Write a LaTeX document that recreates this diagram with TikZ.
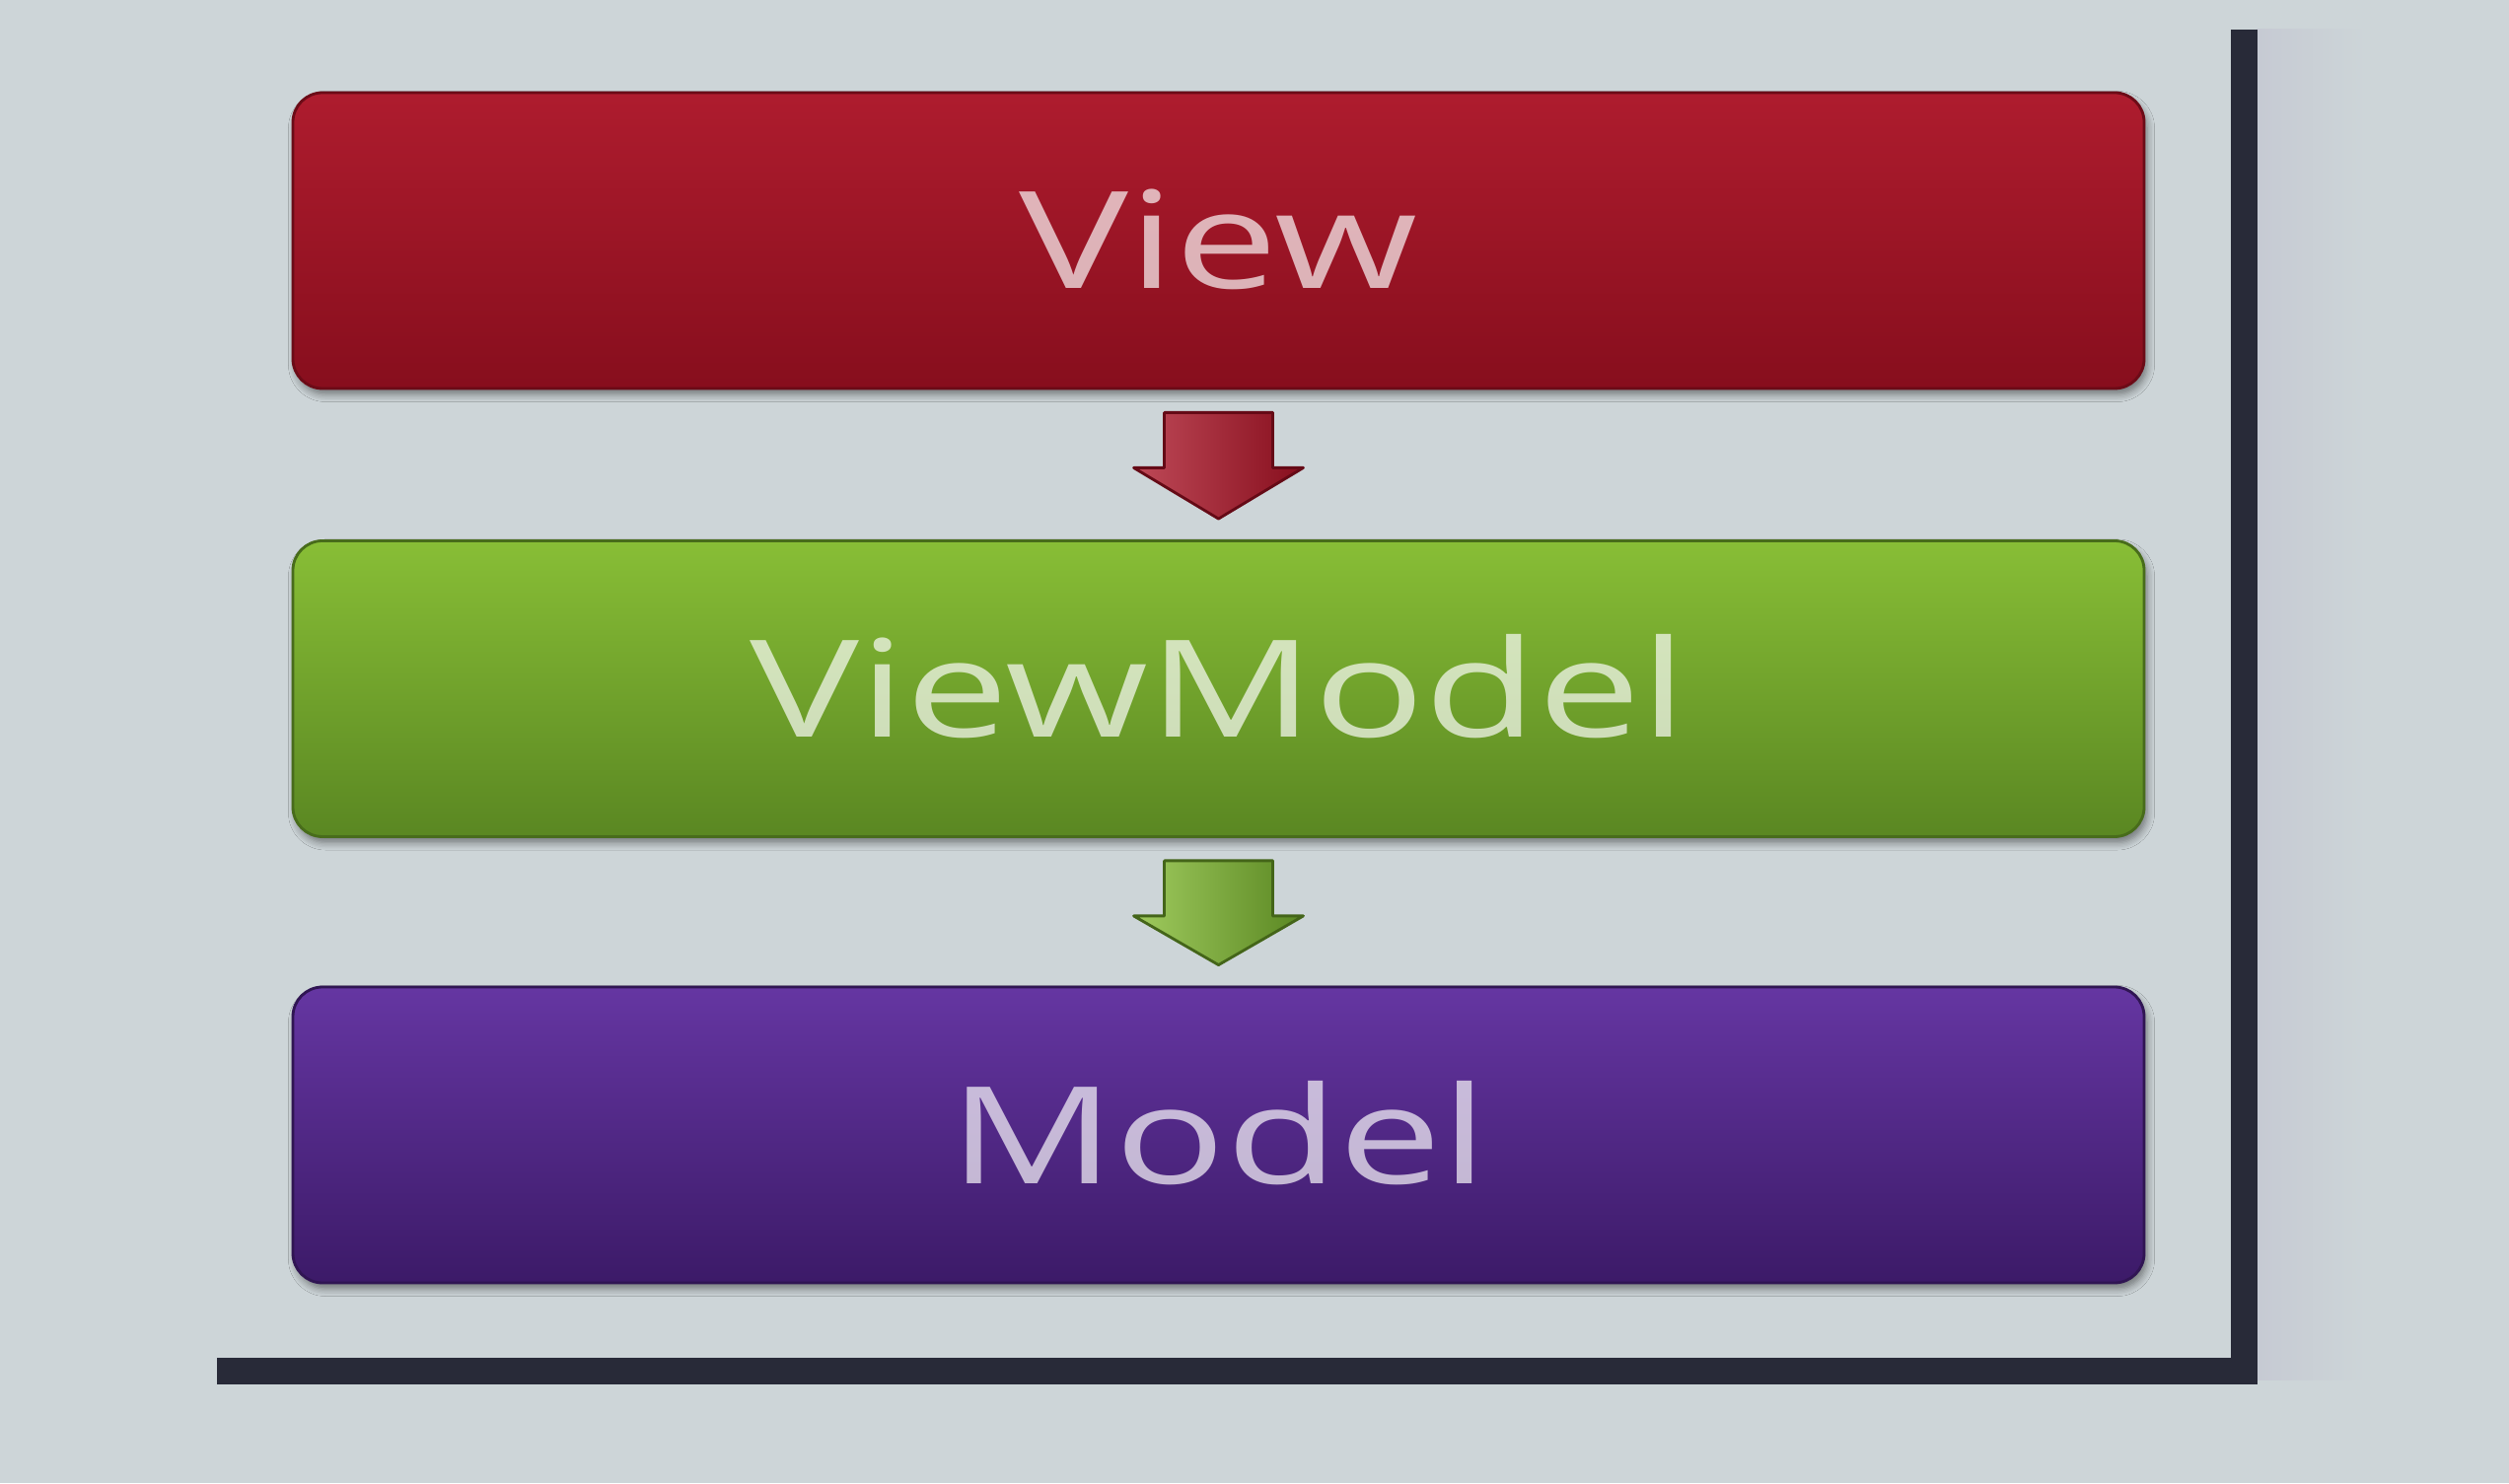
\documentclass[tikz,border=0pt]{standalone}
\usepackage{fontspec}
\setmainfont{Open Sans}
\usetikzlibrary{calc,shadows.blur}
\definecolor{bg}{HTML}{CDD5D8}
\definecolor{axis}{HTML}{282A38}
\definecolor{redT}{HTML}{AE1C2E}
\definecolor{redM}{HTML}{A01224}
\definecolor{redB}{HTML}{870E1D}
\definecolor{grnT}{HTML}{88BE36}
\definecolor{grnM}{HTML}{72A52A}
\definecolor{grnB}{HTML}{5A8722}
\definecolor{purT}{HTML}{6536A2}
\definecolor{purM}{HTML}{50288A}
\definecolor{purB}{HTML}{3C1A68}
\definecolor{band}{HTML}{C6CAD3}
\tikzset{
  layerbox/.style={rounded corners=0.3cm, minimum width=18.77cm, minimum height=3.0cm,
    inner sep=0pt, text height=0.98cm, text depth=0pt, text=white, text opacity=0.68,
    font=\fontsize{39}{40}\selectfont,
    blur shadow={shadow xshift=0.03cm, shadow yshift=-0.06cm, shadow blur steps=6, shadow opacity=45}},
  redbox/.style={layerbox, top color=redT, middle color=redM, bottom color=redB, draw=redB!80!black, line width=0.8pt},
  grnbox/.style={layerbox, top color=grnT, middle color=grnM, bottom color=grnB, draw=grnB!80!black, line width=0.8pt},
  purbox/.style={layerbox, top color=purT, middle color=purM, bottom color=purB, draw=purB!80!black, line width=0.8pt},
  axisline/.style={draw=axis, line width=0.27cm, line join=miter},
}
\newcommand{\wide}[1]{\scalebox{1.36}[1]{#1}}
\begin{document}
\begin{tikzpicture}
\useasboundingbox (0,0) rectangle (25.44,15.04);
\fill[bg] (0,0) rectangle (25.44,15.04);
% faint band right of the vertical axis
\shade[left color=band, right color=bg] (22.88,1.05) rectangle (24.0,14.74);
% axes
\coordinate (ax0) at (2.20,1.14);
\coordinate (ax1) at (22.75,1.14);
\coordinate (ax2) at (22.75,14.74);
\draw[axisline] (ax0) -- (ax1) -- (ax2);
% boxes
\node[redbox] (v) at (12.355,12.60) {\wide{View}};
\node[grnbox] (vm) at (12.355,8.055) {\wide{ViewModel}};
\node[purbox] (m) at (12.355,3.53) {\wide{Model}};
% arrows
\shade[left color=redT!80!white, right color=redB, draw=redB!75!black, line width=0.8pt, line join=round]
  ($(v.south)+(-0.55,-0.23)$) -- ($(v.south)+(0.55,-0.23)$) -- ($(v.south)+(0.55,-0.79)$)
  -- ($(v.south)+(0.86,-0.79)$) -- ($(vm.north)+(0,0.21)$) -- ($(v.south)+(-0.86,-0.79)$)
  -- ($(v.south)+(-0.55,-0.79)$) -- cycle;
\shade[left color=grnT!80!white, right color=grnB, draw=grnB!75!black, line width=0.8pt, line join=round]
  ($(vm.south)+(-0.55,-0.23)$) -- ($(vm.south)+(0.55,-0.23)$) -- ($(vm.south)+(0.55,-0.79)$)
  -- ($(vm.south)+(0.86,-0.79)$) -- ($(m.north)+(0,0.21)$) -- ($(vm.south)+(-0.86,-0.79)$)
  -- ($(vm.south)+(-0.55,-0.79)$) -- cycle;
\end{tikzpicture}
\end{document}
